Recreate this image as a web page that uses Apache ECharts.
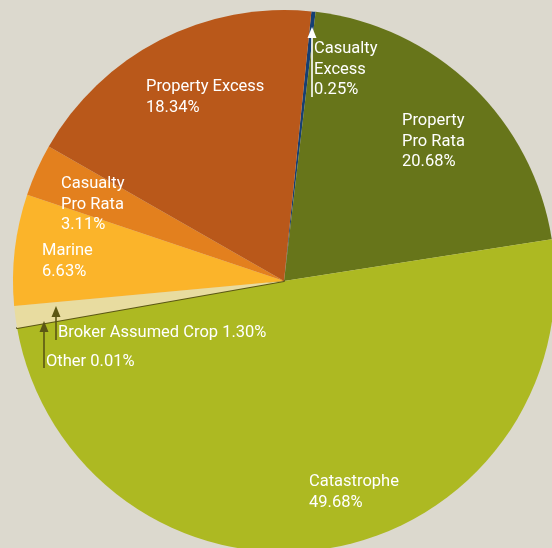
<!DOCTYPE html>
<html>
<head>
<meta charset="utf-8">
<script src="https://cdn.jsdelivr.net/npm/echarts@6/dist/echarts.min.js"></script>
<style>
  html, body { margin: 0; padding: 0; background: #dcd9ce; }
  #chart { width: 552px; height: 548px; }
</style>
</head>
<body>
<div id="chart"></div>
<script>
// Premium mix by line of business (percent of total), clockwise from the top
const categories = ['Casualty Excess', 'Property Pro Rata', 'Catastrophe', 'Other',
                    'Broker Assumed Crop', 'Marine', 'Casualty Pro Rata', 'Property Excess'];
const shares = [0.25, 20.68, 49.68, 0.01, 1.30, 6.63, 3.11, 18.34];
// How each name is set on the chart (line breaks)
const labelNames = ['Casualty\nExcess', 'Property\nPro Rata', 'Catastrophe', 'Other',
                    'Broker Assumed Crop', 'Marine', 'Casualty\nPro Rata', 'Property Excess'];
const labelJoin = ['\n', '\n', '\n', ' ', ' ', '\n', '\n', '\n'];

const sliceColors = ['#163f73', '#67751a', '#adb922', '#5b5714',
                     '#e8dca0', '#fbb42a', '#e3801e', '#b9581a'];
// top-left corner of each label block
const labelPos = [[314, 39], [402, 111], [309, 472], [46, 352],
                  [58, 323], [42, 241], [61, 174], [146, 77]];

const chart = echarts.init(document.getElementById('chart'), null, { renderer: 'canvas' });

const arrowWhite = '#ffffff';
const arrowDark = '#5b5614';
function arrow(x, yTail, yTip, color) {
  return [
    { type: 'line', shape: { x1: x, y1: yTail, x2: x, y2: yTip + 6 },
      style: { stroke: color, lineWidth: 1.6 }, z: 100 },
    { type: 'polygon', shape: { points: [[x, yTip], [x - 4.5, yTip + 11], [x + 4.5, yTip + 11]] },
      style: { fill: color }, z: 100 }
  ];
}

chart.setOption({
  backgroundColor: '#dcd9ce',
  animation: false,
  series: [{
    type: 'pie',
    center: [284, 281],
    radius: 271,
    startAngle: 84.2,
    clockwise: true,
    avoidLabelOverlap: false,
    silent: true,
    emphasis: { disabled: true },
    data: categories.map((name, i) => ({
      name: name,
      value: shares[i],
      itemStyle: i === 3
        ? { color: sliceColors[i], borderColor: sliceColors[i], borderWidth: 2 }
        : { color: sliceColors[i], borderWidth: 0 }
    })),
    label: {
      show: true,
      position: 'inside',
      color: '#ffffff',
      fontFamily: "Roboto, 'Liberation Sans', sans-serif",
      fontSize: 16.5,
      lineHeight: 20.5,
      align: 'left',
      formatter: p => labelNames[p.dataIndex] + labelJoin[p.dataIndex] + shares[p.dataIndex].toFixed(2) + '%'
    },
    labelLine: { show: false },
    labelLayout: p => ({
      x: labelPos[p.dataIndex][0],
      y: labelPos[p.dataIndex][1],
      align: 'left',
      verticalAlign: 'top',
      hideOverlap: false
    })
  }],
  graphic: [].concat(
    arrow(312, 97, 27, arrowWhite),
    arrow(56, 340, 306, arrowDark),
    arrow(44, 368, 321, arrowDark)
  )
});
</script>
</body>
</html>
